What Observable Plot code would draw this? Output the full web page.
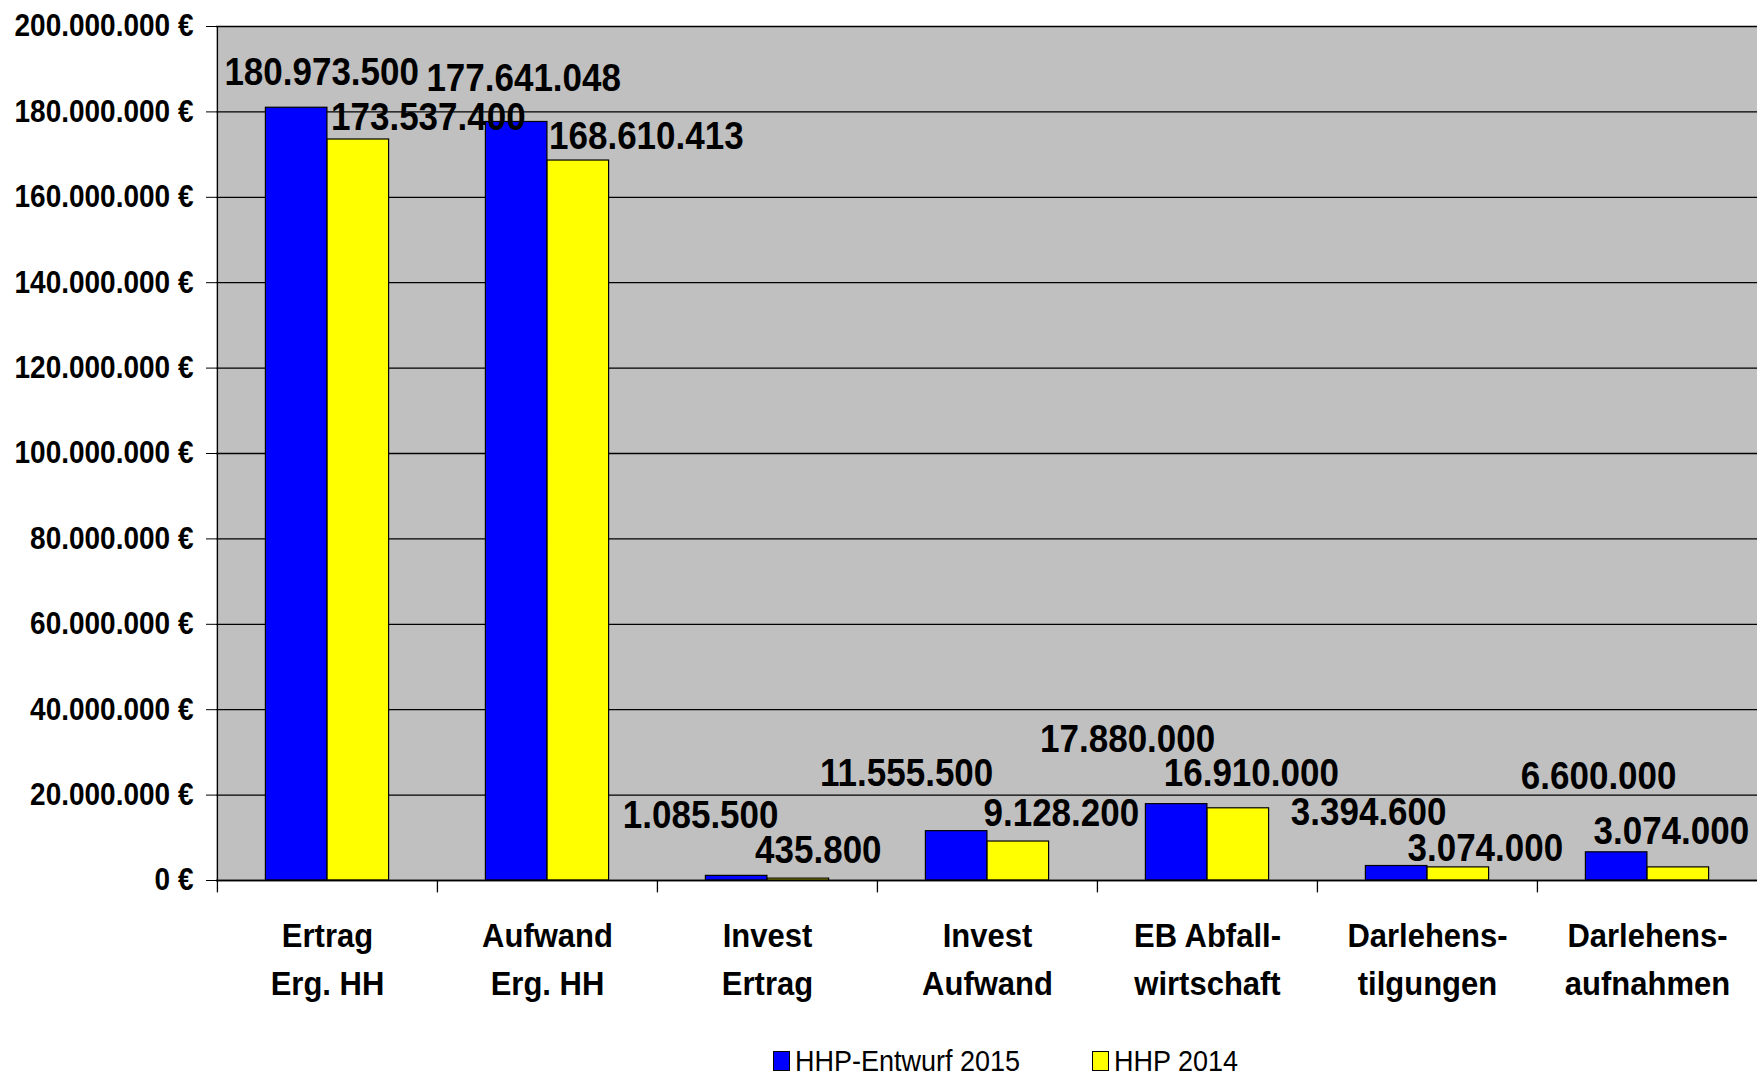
<!DOCTYPE html>
<html><head><meta charset="utf-8">
<script src="https://cdn.jsdelivr.net/npm/d3@7"></script>
<script src="https://cdn.jsdelivr.net/npm/@observablehq/plot@0.6"></script>
<style>
body{margin:0;background:#fff;}
#chart{width:1757px;position:relative;}
.nf{font-family:"Liberation Sans",Arial,sans-serif;}
.legend{position:relative;width:1757px;height:46px;font-size:27px;color:#000;}
.item{position:absolute;top:8px;height:46px;display:flex;align-items:center;}
.item .t{display:inline-block;transform:scaleY(1.1);}
.sw{width:17px;height:20px;border:1px solid #000;margin-right:5px;box-sizing:border-box;}
</style></head><body><div id="chart" class="nf"></div><script>
// ---- data ----
const categories = ["Ertrag\nErg. HH", "Aufwand\nErg. HH", "Invest\nErtrag", "Invest\nAufwand", "EB Abfall-\nwirtschaft", "Darlehens-\ntilgungen", "Darlehens-\naufnahmen"];
const seriesNames = ["HHP-Entwurf 2015", "HHP 2014"];
const entwurf2015 = [180973500, 177641048, 1085500, 11555500, 17880000, 3394600, 6600000];
const hhp2014 = [173537400, 168610413, 435800, 9128200, 16910000, 3074000, 3074000];
const yTicks = [0, 20000000, 40000000, 60000000, 80000000, 100000000, 120000000, 140000000, 160000000, 180000000, 200000000];

// ---- styling (label nudges in px, like manually placed Excel labels) ----
const seriesColors = ["#0000ff", "#ffff00"];
const labelNudge = [
  [[25,-35],[7,-43],[-36,-60],[-50,-57],[-49,-64],[-28,-53],[-18,-76]],
  [[70,-22],[68,-24],[20,-28],[43,-28],[13,-35],[27,-19],[-7,-36]]
];

const W = 1757, H = 1030, mL = 216, mT = 26, mR = 0, zeroY = 880;
const mB = H - zeroY;
const bandW = (W - mL - mR) / categories.length;
const edge = 48.4, barW = (bandW - 2 * edge) / 2;

const loc = d3.formatLocale({decimal: ",", thousands: ".", grouping: [3], currency: ["", " €"]});
const yFmt = loc.format("$,.0f");
const vFmt = loc.format(",.0f");

const rows = [];
categories.forEach((c, i) => {
  rows.push({cat: c, s: 0, value: entwurf2015[i], i});
  rows.push({cat: c, s: 1, value: hhp2014[i], i});
});

const barMarks = [0, 1].map(s => Plot.barY(rows.filter(r => r.s === s), {
  x: "cat", y: "value", fill: seriesColors[s], stroke: "#000", strokeWidth: 1.2,
  insetLeft: edge + s * barW, insetRight: edge + (1 - s) * barW
}));

const labelMarks = rows.map(r => Plot.text([r], {
  x: "cat", y: "value", text: d => vFmt(d.value),
  dx: (r.s === 0 ? -barW / 2 : barW / 2) + labelNudge[r.s][r.i][0],
  dy: labelNudge[r.s][r.i][1],
  fontSize: 35, fontWeight: "bold", fill: "#000", textAnchor: "middle", lineAnchor: "middle",
  ariaLabel: "value-label"
}));

const chart = Plot.plot({
  width: W, height: H, marginLeft: mL, marginTop: mT, marginRight: mR, marginBottom: mB,
  x: {domain: categories, padding: 0},
  y: {domain: [0, 200000000]},
  style: {background: "#fff", color: "#000", fontFamily: '"Liberation Sans",Arial,sans-serif'},
  marks: [
    Plot.frame({fill: "#c0c0c0", stroke: null}),
    Plot.ruleY(yTicks, {stroke: "#000", strokeWidth: 1.3}),
    ...barMarks,
    Plot.ruleX(categories, {x: d => d, dx: -bandW / 2, y1: 0, y2: -2900000, stroke: "#000", strokeWidth: 1.3}),
    Plot.ruleX([categories[0]], {x: d => d, dx: -bandW / 2, y1: 0, y2: 200000000, stroke: "#000", strokeWidth: 1.3}),
    Plot.ruleY([0], {stroke: "#000", strokeWidth: 1.5}),
    Plot.axisY({ticks: yTicks, tickFormat: yFmt, tickSize: 10, tickPadding: 13, fontSize: 28, fontWeight: "bold", label: null}),
    Plot.axisX({tickSize: 0, tickPadding: 32, fontSize: 31, fontWeight: "bold", lineHeight: 1.41, label: null}),
    ...labelMarks
  ]
});
document.getElementById("chart").appendChild(chart);
// the reference lettering is slightly tall: stretch every SVG text vertically around its anchor
chart.querySelectorAll("text").forEach(t => {
  const tr = t.getAttribute("transform");
  if (tr) t.setAttribute("transform", tr + " scale(1,1.1)");
});

const legend = document.createElement("div");
legend.className = "legend nf";
const lefts = [773, 1092];
seriesNames.forEach((n, k) => {
  const it = document.createElement("div");
  it.className = "item";
  it.style.left = lefts[k] + "px";
  const sw = document.createElement("span");
  sw.className = "sw"; sw.style.background = seriesColors[k];
  const tx = document.createElement("span");
  tx.className = "t";
  tx.textContent = n;
  it.appendChild(sw); it.appendChild(tx);
  legend.appendChild(it);
});
document.body.appendChild(legend);
</script></body></html>
